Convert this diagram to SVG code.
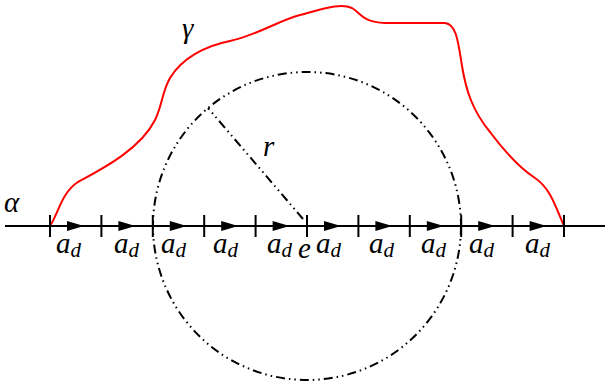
<svg xmlns="http://www.w3.org/2000/svg" width="605" height="386" viewBox="0 0 605 386">
<style>
.ax{stroke:#000;stroke-width:2;fill:none}
.tk{stroke:#000;stroke-width:2}
.ah{fill:#000}
.dd{stroke:#000;stroke-width:2;fill:none;stroke-dasharray:9 4 1.5 4 1.5 4}
.t{font-family:"Liberation Serif","Times New Roman",serif;font-style:italic;fill:#000}
.a{font-size:29px}
.s{font-size:21px}
</style>
<rect width="605" height="386" fill="#fff"/>
<g id="circle">
<circle class="dd" cx="307" cy="226" r="154"/>
<line class="dd" x1="303" y1="219" x2="208" y2="108"/>
</g>
<g id="gamma">
<path d="M50,226 C58,214 62,192 78,182 C100,170 140,150 155,120 C162,106 162,92 170,78 C182,58 205,46 230,41 C255,36 280,20 300,15 C320,10 340,2 352,8 C362,14 362,22 385,23 L445,23 C456,24 458,40 462,66 C466,90 472,110 490,132 C505,152 520,168 535,178 C550,188 555,205 564,226" stroke="#f00" stroke-width="2" fill="none"/>
</g>
<g id="axis">
<line class="ax" x1="5" y1="226" x2="605" y2="226"/>
<g id="ticks">
<line class="tk" x1="50" y1="215" x2="50" y2="237"/>
<line class="tk" x1="101.4" y1="215" x2="101.4" y2="237"/>
<line class="tk" x1="152.8" y1="215" x2="152.8" y2="237"/>
<line class="tk" x1="204.2" y1="215" x2="204.2" y2="237"/>
<line class="tk" x1="255.6" y1="215" x2="255.6" y2="237"/>
<line class="tk" x1="307" y1="215" x2="307" y2="237"/>
<line class="tk" x1="358.4" y1="215" x2="358.4" y2="237"/>
<line class="tk" x1="409.8" y1="215" x2="409.8" y2="237"/>
<line class="tk" x1="461.2" y1="215" x2="461.2" y2="237"/>
<line class="tk" x1="512.6" y1="215" x2="512.6" y2="237"/>
<line class="tk" x1="564" y1="215" x2="564" y2="237"/>
</g>
<g id="arrows">
<path class="ah" d="M67,221 L84,226 L67,231 Z"/>
<path class="ah" d="M118.4,221 L135.4,226 L118.4,231 Z"/>
<path class="ah" d="M169.8,221 L186.8,226 L169.8,231 Z"/>
<path class="ah" d="M221.2,221 L238.2,226 L221.2,231 Z"/>
<path class="ah" d="M272.6,221 L289.6,226 L272.6,231 Z"/>
<path class="ah" d="M324,221 L341,226 L324,231 Z"/>
<path class="ah" d="M375.4,221 L392.4,226 L375.4,231 Z"/>
<path class="ah" d="M426.8,221 L443.8,226 L426.8,231 Z"/>
<path class="ah" d="M478.2,221 L495.2,226 L478.2,231 Z"/>
<path class="ah" d="M529.6,221 L546.6,226 L529.6,231 Z"/>
</g>
</g>
<g id="labels">
<text class="t a" x="4" y="212">α</text>
<text class="t a" x="182" y="38">γ</text>
<text class="t a" x="263" y="156">r</text>
<text class="t a" x="298" y="258">e</text>
<text class="t a" x="56" y="253">a<tspan class="s" dy="4">d</tspan></text>
<text class="t a" x="114" y="253">a<tspan class="s" dy="4">d</tspan></text>
<text class="t a" x="161" y="253">a<tspan class="s" dy="4">d</tspan></text>
<text class="t a" x="213" y="253">a<tspan class="s" dy="4">d</tspan></text>
<text class="t a" x="267" y="253">a<tspan class="s" dy="4">d</tspan></text>
<text class="t a" x="316" y="253">a<tspan class="s" dy="4">d</tspan></text>
<text class="t a" x="369" y="253">a<tspan class="s" dy="4">d</tspan></text>
<text class="t a" x="421" y="253">a<tspan class="s" dy="4">d</tspan></text>
<text class="t a" x="469" y="253">a<tspan class="s" dy="4">d</tspan></text>
<text class="t a" x="525" y="253">a<tspan class="s" dy="4">d</tspan></text>
</g>
</svg>
